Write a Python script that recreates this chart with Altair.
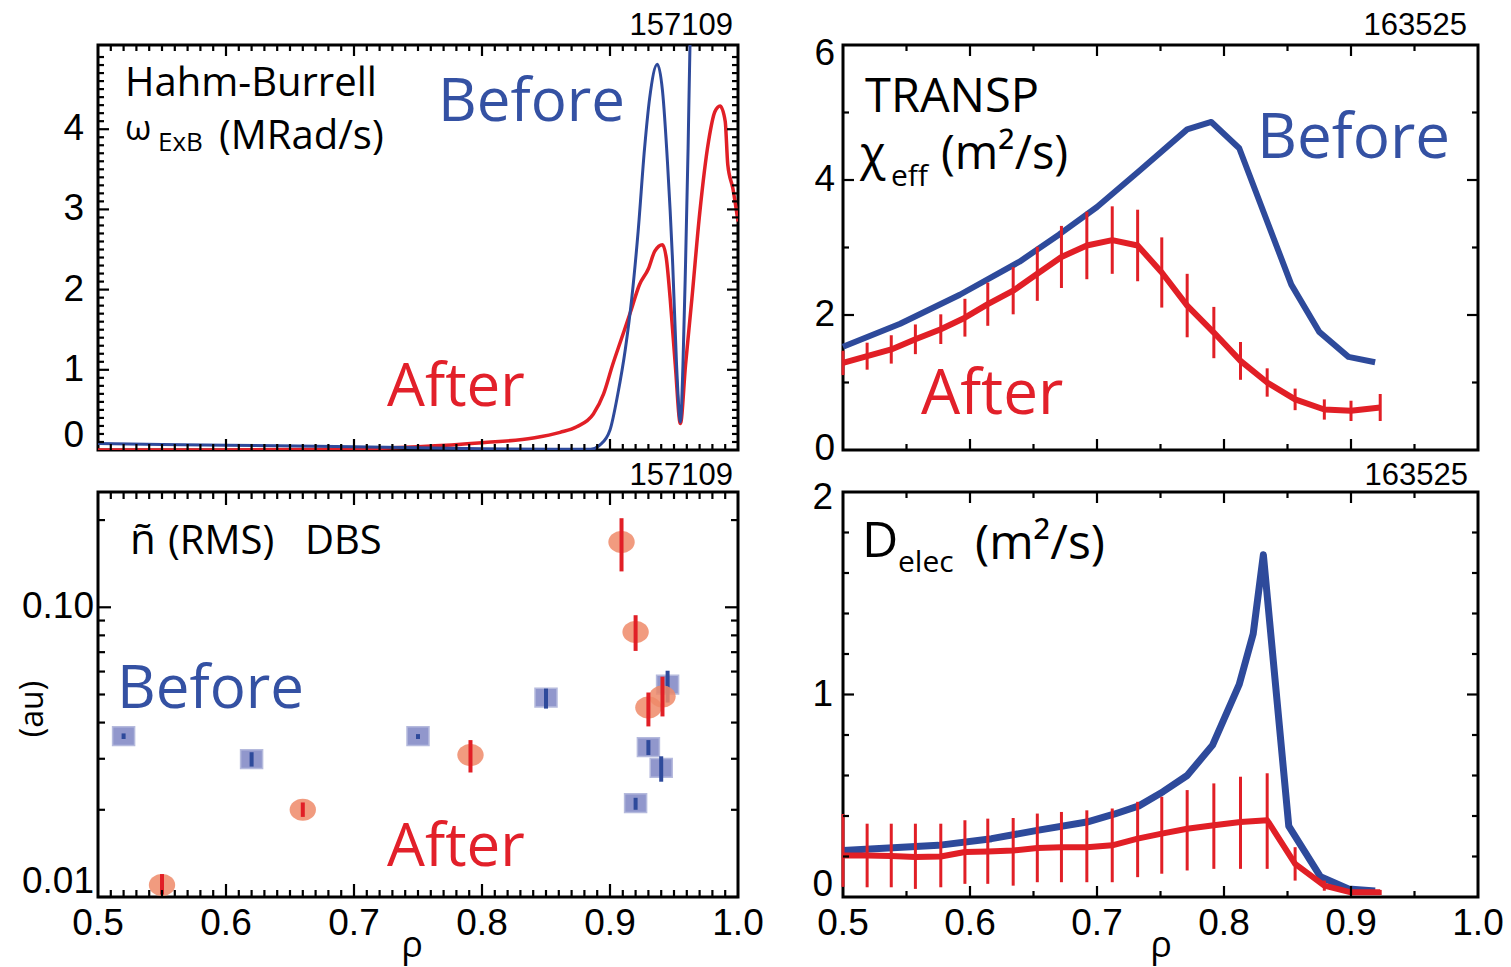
import altair as alt
import pandas as pd

# ---------------- data ----------------
# Hahm-Burrell ExB shearing rate (MRad/s), shot 157109
exb_before_rho = [0.50, 0.60, 0.70, 0.80, 0.885, 0.892, 0.900, 0.906, 0.912, 0.917, 0.922, 0.927,
                  0.931, 0.937, 0.941, 0.945, 0.949, 0.952, 0.955, 0.957, 0.959, 0.961, 0.9625, 0.964]
exb_before_val = [0.08, 0.06, 0.04, 0.015, 0.01, 0.06, 0.25, 0.69, 1.26, 1.89, 2.73, 3.76,
                  4.39, 4.81, 4.48, 3.56, 2.31, 1.06, 0.35, 1.06, 2.31, 3.76, 5.06, 5.8]
exb_after_rho = [0.50, 0.60, 0.69, 0.75, 0.80, 0.84, 0.861, 0.874, 0.887, 0.895, 0.902, 0.909, 0.916,
                 0.923, 0.930, 0.935, 0.941, 0.944, 0.947, 0.951, 0.955, 0.959, 0.964, 0.970, 0.977,
                 0.982, 0.986, 0.990, 0.992, 0.996, 1.0]
exb_after_val = [0.0, 0.0, 0.01, 0.04, 0.09, 0.15, 0.22, 0.29, 0.45, 0.70, 1.06, 1.39, 1.72,
                 2.06, 2.26, 2.48, 2.56, 2.39, 1.89, 1.06, 0.33, 1.06, 1.89, 2.94, 3.85,
                 4.22, 4.29, 4.10, 3.56, 3.26, 2.85]

# TRANSP chi_eff (m^2/s), shot 163525
chi_before_rho = [0.50, 0.545, 0.592, 0.639, 0.67, 0.70, 0.733, 0.771, 0.79, 0.812, 0.853, 0.875, 0.898, 0.919]
chi_before_val = [1.53, 1.87, 2.30, 2.79, 3.19, 3.60, 4.13, 4.75, 4.86, 4.47, 2.45, 1.75, 1.38, 1.30]
after_rho = [0.500, 0.519, 0.538, 0.557, 0.577, 0.596, 0.614, 0.634, 0.653, 0.672, 0.692,
             0.712, 0.732, 0.751, 0.771, 0.792, 0.813, 0.834, 0.856, 0.879, 0.900, 0.923]
chi_after_val = [1.29, 1.39, 1.49, 1.64, 1.79, 1.96, 2.16, 2.36, 2.61, 2.86, 3.03,
                 3.11, 3.03, 2.63, 2.14, 1.74, 1.32, 1.00, 0.75, 0.60, 0.58, 0.63]
chi_after_err = [0.18, 0.20, 0.21, 0.22, 0.22, 0.28, 0.32, 0.35, 0.40, 0.46, 0.50,
                 0.50, 0.53, 0.52, 0.47, 0.38, 0.28, 0.21, 0.16, 0.15, 0.15, 0.20]

# DBS density fluctuation level (au), shot 157109
dbs_before_rho = [0.520, 0.620, 0.750, 0.850, 0.920, 0.930, 0.940, 0.945]
dbs_before_val = [0.0359, 0.0299, 0.0359, 0.0488, 0.0211, 0.0329, 0.0279, 0.0541]
dbs_before_lo = [0.0351, 0.0282, 0.0351, 0.0447, 0.0200, 0.0309, 0.0250, 0.0469]
dbs_before_hi = [0.0367, 0.0316, 0.0365, 0.0524, 0.0220, 0.0348, 0.0306, 0.0604]
dbs_after_rho = [0.550, 0.660, 0.791, 0.909, 0.920, 0.930, 0.941]
dbs_after_val = [0.0110, 0.0200, 0.0309, 0.168, 0.0821, 0.0451, 0.0492]
dbs_after_lo = [0.0102, 0.0189, 0.0269, 0.133, 0.0707, 0.0388, 0.0420]
dbs_after_hi = [0.0120, 0.0212, 0.0348, 0.203, 0.0939, 0.0508, 0.0576]

# Electron particle diffusivity D_elec (m^2/s), shot 163525
d_before_rho = [0.50, 0.575, 0.617, 0.654, 0.692, 0.714, 0.733, 0.752, 0.771, 0.791, 0.812,
                0.823, 0.831, 0.851, 0.876, 0.898, 0.919]
d_before_val = [0.23, 0.255, 0.288, 0.33, 0.37, 0.41, 0.45, 0.52, 0.60, 0.75, 1.05,
                1.30, 1.69, 0.35, 0.10, 0.04, 0.03]
d_after_val = [0.205, 0.205, 0.202, 0.197, 0.200, 0.222, 0.225, 0.230, 0.242, 0.246, 0.246,
               0.255, 0.288, 0.313, 0.337, 0.354, 0.370, 0.379, 0.164, 0.056, 0.023, 0.023]
d_after_lo = [0.050, 0.048, 0.048, 0.040, 0.048, 0.065, 0.065, 0.056, 0.073, 0.073, 0.073,
              0.073, 0.098, 0.115, 0.131, 0.139, 0.139, 0.139, 0.081, 0.031, 0.012, 0.010]
d_after_hi = [0.410, 0.362, 0.362, 0.362, 0.362, 0.379, 0.387, 0.390, 0.412, 0.420, 0.428,
              0.437, 0.470, 0.495, 0.528, 0.561, 0.594, 0.611, 0.246, 0.081, 0.035, 0.035]

rho_labels = [0.5, 0.6, 0.7, 0.8, 0.9, 1.0]

# ---------------- style ----------------
BLUE = "#2E4A9B"
RED = "#E11F26"
TXT_BLUE = "#3451A3"
TXT_RED = "#E2202A"
TXT = "Open Sans"
NUM = "Liberation Sans"
NUM_SIZE = 37
WL, WR, H = 640, 635, 405


def frame_ticks(xs, ys, W, xmaj, xmin, ymaj, ymin, lmaj=11, lmin=6):
    """Inward-pointing ticks on all four sides of a panel."""
    out = []
    for vals, L in ((xmaj, lmaj), (xmin, lmin)):
        base = alt.Chart(pd.DataFrame({"t": vals})).mark_rule(color="black", strokeWidth=2.2)
        xe = alt.X("t:Q", scale=xs, axis=None)
        out.append(base.encode(x=xe, y=alt.value(H), y2=alt.value(H - L)))
        out.append(base.encode(x=xe, y=alt.value(0), y2=alt.value(L)))
    for vals, L in ((ymaj, lmaj), (ymin, lmin)):
        base = alt.Chart(pd.DataFrame({"t": vals})).mark_rule(color="black", strokeWidth=2.2)
        ye = alt.Y("t:Q", scale=ys, axis=None)
        out.append(base.encode(y=ye, x=alt.value(0), x2=alt.value(L)))
        out.append(base.encode(y=ye, x=alt.value(W), x2=alt.value(W - L)))
    return out


def x_tick_labels(values, xs):
    return alt.Chart(pd.DataFrame({"t": values})).mark_text(
        font=NUM, fontSize=NUM_SIZE, color="black", baseline="middle", align="center"
    ).encode(x=alt.X("t:Q", scale=xs, axis=None), y=alt.value(H + 27),
             text=alt.Text("t:Q", format=".1f"))


def y_tick_labels(values, ys, fmt, xpos, dy=0, baseline="middle"):
    return alt.Chart(pd.DataFrame({"t": values})).mark_text(
        font=NUM, fontSize=NUM_SIZE, color="black", baseline=baseline, align="right", dy=dy
    ).encode(y=alt.Y("t:Q", scale=ys, axis=None), x=alt.value(xpos),
             text=alt.Text("t:Q", format=fmt))


def label(text, x, y, size, color="black", font=TXT, align="left", baseline="alphabetic", angle=0):
    return alt.Chart(pd.DataFrame({"k": [0]})).mark_text(
        text=text, font=font, fontSize=size, color=color, align=align, baseline=baseline, angle=angle
    ).encode(x=alt.value(x), y=alt.value(y))


def curve(rho, val, xs, ys, color, width, interp="linear", clip=False):
    df = pd.DataFrame({"rho": rho, "v": val})
    return alt.Chart(df).mark_line(color=color, strokeWidth=width, interpolate=interp, clip=clip,
                                   strokeJoin="round").encode(
        x=alt.X("rho:Q", scale=xs, axis=None),
        y=alt.Y("v:Q", scale=ys, axis=None),
    )


def bars(rho, lo, hi, xs, ys, color, width):
    df = pd.DataFrame({"rho": rho, "lo": lo, "hi": hi})
    return alt.Chart(df).mark_rule(color=color, strokeWidth=width).encode(
        x=alt.X("rho:Q", scale=xs, axis=None),
        y=alt.Y("lo:Q", scale=ys, axis=None),
        y2="hi:Q",
    )


minor_001 = [round(0.5 + 0.01 * i, 2) for i in range(1, 50) if i % 10]
rho_major = [0.6, 0.7, 0.8, 0.9]
rho_half = [0.55, 0.65, 0.75, 0.85, 0.95]

# ---------------- top left: ExB shear ----------------
xs_l = alt.Scale(domain=[0.5, 1.0], nice=False, zero=False)
ys_tl = alt.Scale(domain=[0, 5.05], nice=False, zero=False)
tl = alt.layer(
    curve(exb_after_rho, exb_after_val, xs_l, ys_tl, RED, 3.5, interp="monotone", clip=True),
    curve(exb_before_rho, exb_before_val, xs_l, ys_tl, BLUE, 3.0, interp="monotone", clip=True),
    *frame_ticks(xs_l, ys_tl, WL, rho_major, minor_001, [1, 2, 3, 4],
                 [round(0.1 * i, 1) for i in range(1, 51) if i % 10]),
    y_tick_labels([1, 2, 3, 4], ys_tl, "d", -14),
    y_tick_labels([0], ys_tl, "d", -14, dy=-3, baseline="alphabetic"),
    label("Hahm-Burrell", 27, 51, 40),
    label("ω", 27, 95, 34),
    label("ExB", 60, 106, 26),
    label("(MRad/s)", 121, 104, 40),
    label("Before", 340, 76, 60, TXT_BLUE),
    label("After", 289, 361, 60, TXT_RED),
    label("157109", WL - 5, -10, 31, font=NUM, align="right"),
).properties(width=WL, height=H)

# ---------------- top right: chi_eff ----------------
xs_r = alt.Scale(domain=[0.5, 1.0], nice=False, zero=False)
ys_tr = alt.Scale(domain=[0, 6], nice=False, zero=False)
chi_lo = [v - e for v, e in zip(chi_after_val, chi_after_err)]
chi_hi = [v + e for v, e in zip(chi_after_val, chi_after_err)]
tr = alt.layer(
    curve(chi_before_rho, chi_before_val, xs_r, ys_tr, BLUE, 6),
    bars(after_rho, chi_lo, chi_hi, xs_r, ys_tr, RED, 3),
    curve(after_rho, chi_after_val, xs_r, ys_tr, RED, 6),
    *frame_ticks(xs_r, ys_tr, WR, rho_major, rho_half, [2, 4], [1, 3, 5]),
    y_tick_labels([6], ys_tr, "d", -8, dy=9),
    y_tick_labels([2, 4], ys_tr, "d", -8),
    y_tick_labels([0], ys_tr, "d", -8, dy=-1),
    label("TRANSP", 22, 67, 47),
    label("χ", 17, 125, 47),
    label("eff", 48, 141, 30),
    label("(m²/s)", 98, 124, 47),
    label("Before", 414, 113, 62, TXT_BLUE),
    label("After", 78, 369, 62, TXT_RED),
    label("163525", WR - 11, -10, 31, font=NUM, align="right"),
).properties(width=WR, height=H)

# ---------------- bottom left: DBS fluctuation level ----------------
ys_bl = alt.Scale(type="log", domain=[0.01, 0.25], nice=False)
ellipse = "M -1.2 0 A 1.2 1 0 1 0 1.2 0 A 1.2 1 0 1 0 -1.2 0 Z"
box = "M -1 -0.85 L 1 -0.85 L 1 0.85 L -1 0.85 Z"
df_b = pd.DataFrame({"rho": dbs_before_rho, "v": dbs_before_val})
df_a = pd.DataFrame({"rho": dbs_after_rho, "v": dbs_after_val})
sq = alt.Chart(df_b).mark_point(shape=box, filled=True, size=484, color="#7E86C4", opacity=0.85,
                                 stroke="#A9AED8", strokeWidth=1.5).encode(
    x=alt.X("rho:Q", scale=xs_l, axis=None),
    y=alt.Y("v:Q", scale=ys_bl, axis=None),
)
ci = alt.Chart(df_a).mark_point(shape=ellipse, filled=True, size=484, color="#EF8A68",
                                 opacity=0.85, strokeWidth=0).encode(
    x=alt.X("rho:Q", scale=xs_l, axis=None),
    y=alt.Y("v:Q", scale=ys_bl, axis=None),
)
bl = alt.layer(
    sq,
    bars(dbs_before_rho, dbs_before_lo, dbs_before_hi, xs_l, ys_bl, BLUE, 4),
    ci,
    bars(dbs_after_rho, dbs_after_lo, dbs_after_hi, xs_l, ys_bl, RED, 4),
    *frame_ticks(xs_l, ys_bl, WL, rho_major, minor_001, [0.01, 0.1],
                 [0.02, 0.03, 0.04, 0.05, 0.06, 0.07, 0.08, 0.09, 0.2], lmaj=13, lmin=7),
    x_tick_labels(rho_labels, xs_l),
    y_tick_labels([0.1], ys_bl, ".2f", -4),
    y_tick_labels([0.01], ys_bl, ".2f", -4, dy=-4, baseline="alphabetic"),
    label("ñ", 32, 62, 42),
    label("(RMS)", 70, 62, 40),
    label("DBS", 207, 62, 40),
    label("Before", 19, 216, 60, TXT_BLUE),
    label("After", 289, 374, 60, TXT_RED),
    label("(au)", -65, 217, 32, angle=270, baseline="middle", align="center"),
    label("ρ", 314, H + 60, 36, align="center"),
    label("157109", WL - 5, -7, 31, font=NUM, align="right"),
).properties(width=WL, height=H)

# ---------------- bottom right: D_elec ----------------
ys_br = alt.Scale(domain=[0, 2], nice=False, zero=False)
br = alt.layer(
    curve(d_before_rho, d_before_val, xs_r, ys_br, BLUE, 7),
    bars(after_rho, d_after_lo, d_after_hi, xs_r, ys_br, RED, 3),
    curve(after_rho, d_after_val, xs_r, ys_br, RED, 6),
    *frame_ticks(xs_r, ys_br, WR, rho_major, rho_half, [1],
                 [0.2, 0.4, 0.6, 0.8, 1.2, 1.4, 1.6, 1.8]),
    x_tick_labels(rho_labels, xs_r),
    y_tick_labels([2], ys_br, "d", -10, dy=6),
    y_tick_labels([1], ys_br, "d", -10),
    y_tick_labels([0], ys_br, "d", -10, dy=-12),
    label("D", 19, 65, 50),
    label("elec", 55, 80, 30),
    label("(m²/s)", 132, 67, 48),
    label("ρ", 318, H + 60, 36, align="center"),
    label("163525", WR - 10, -7, 31, font=NUM, align="right"),
).properties(width=WR, height=H)

chart = alt.concat(
    tl, tr, bl, br, columns=2, spacing={"row": 42, "column": 105}, bounds="flush"
).properties(
    padding={"left": 15, "top": 8, "right": 3, "bottom": 4}, background="white"
).configure_view(stroke="black", strokeWidth=3)

chart.save("out.html", embed_options={"renderer": "svg", "actions": False})
